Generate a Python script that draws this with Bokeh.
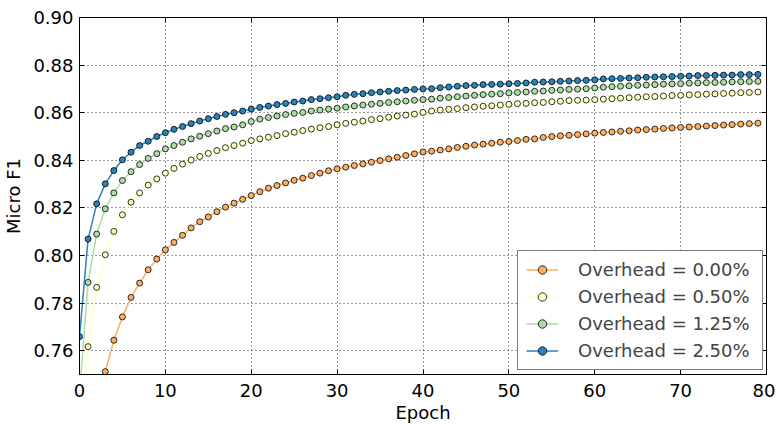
from bokeh.plotting import figure
from bokeh.models import Range1d, FixedTicker, LinearAxis, Legend, LegendItem, PrintfTickFormatter, ColumnDataSource
from bokeh.embed import file_html
from bokeh.resources import INLINE

epochs = list(range(80))

overhead_0_00 = [
    0.620, 0.690, 0.725, 0.7512, 0.7644, 0.7742, 0.7824, 0.7884, 0.7940, 0.7985,
    0.8024, 0.8055, 0.8085, 0.8116, 0.8142, 0.8162, 0.8184, 0.8203, 0.8220, 0.8236,
    0.8252, 0.8268, 0.8283, 0.8294, 0.8305, 0.8316, 0.8325, 0.8336, 0.8346, 0.8356,
    0.8364, 0.8371, 0.8378, 0.8385, 0.8392, 0.8399, 0.8406, 0.8413, 0.8420, 0.8427,
    0.8435, 0.8438, 0.8443, 0.8448, 0.8454, 0.8459, 0.8464, 0.8468, 0.8472, 0.8476,
    0.8479, 0.8483, 0.8488, 0.8490, 0.8496, 0.8500, 0.8503, 0.8505, 0.8508, 0.8511,
    0.8514, 0.8517, 0.8519, 0.8522, 0.8524, 0.8527, 0.8529, 0.8531, 0.8534, 0.8536,
    0.8538, 0.8540, 0.8542, 0.8544, 0.8546, 0.8548, 0.8550, 0.8552, 0.8554, 0.8556,
]

overhead_0_50 = [
    0.727, 0.7617, 0.7866, 0.8003, 0.8101, 0.8171, 0.8224, 0.8263, 0.8296, 0.8322,
    0.8346, 0.8366, 0.8384, 0.8401, 0.8416, 0.8429, 0.8441, 0.8453, 0.8462, 0.8472,
    0.8483, 0.8490, 0.8497, 0.8504, 0.8512, 0.8518, 0.8525, 0.8531, 0.8537, 0.8542,
    0.8549, 0.8555, 0.8560, 0.8565, 0.8571, 0.8575, 0.8581, 0.8586, 0.8590, 0.8594,
    0.8601, 0.8607, 0.8611, 0.8614, 0.8617, 0.8621, 0.8624, 0.8627, 0.8629, 0.8632,
    0.8635, 0.8638, 0.8639, 0.8642, 0.8643, 0.8646, 0.8648, 0.8651, 0.8652, 0.8653,
    0.8655, 0.8657, 0.8659, 0.8661, 0.8663, 0.8665, 0.8667, 0.8668, 0.8670, 0.8672,
    0.8673, 0.8675, 0.8676, 0.8678, 0.8679, 0.8681, 0.8682, 0.8684, 0.8685, 0.8687,
]

overhead_1_25 = [
    0.742, 0.7887, 0.8090, 0.8196, 0.8263, 0.8315, 0.8352, 0.8382, 0.8408, 0.8428,
    0.8448, 0.8462, 0.8476, 0.8490, 0.8501, 0.8512, 0.8523, 0.8533, 0.8540, 0.8549,
    0.8563, 0.8573, 0.8580, 0.8586, 0.8592, 0.8597, 0.8601, 0.8607, 0.8611, 0.8615,
    0.8619, 0.8624, 0.8628, 0.8632, 0.8636, 0.8639, 0.8643, 0.8646, 0.8649, 0.8652,
    0.8655, 0.8657, 0.8661, 0.8664, 0.8667, 0.8670, 0.8673, 0.8676, 0.8678, 0.8680,
    0.8683, 0.8685, 0.8687, 0.8690, 0.8691, 0.8694, 0.8695, 0.8698, 0.8699, 0.8701,
    0.8704, 0.8707, 0.8709, 0.8711, 0.8713, 0.8715, 0.8716, 0.8718, 0.8720, 0.8721,
    0.8722, 0.8724, 0.8725, 0.8726, 0.8727, 0.8728, 0.8729, 0.8730, 0.8731, 0.8732,
]

overhead_2_50 = [
    0.7659, 0.8069, 0.8217, 0.8301, 0.8357, 0.8402, 0.8434, 0.8462, 0.8480, 0.8500,
    0.8516, 0.8530, 0.8542, 0.8554, 0.8565, 0.8575, 0.8584, 0.8593, 0.8600, 0.8607,
    0.8615, 0.8622, 0.8628, 0.8634, 0.8639, 0.8645, 0.8649, 0.8655, 0.8659, 0.8663,
    0.8667, 0.8673, 0.8677, 0.8680, 0.8684, 0.8687, 0.8690, 0.8693, 0.8695, 0.8698,
    0.8700, 0.8701, 0.8705, 0.8708, 0.8711, 0.8714, 0.8715, 0.8718, 0.8719, 0.8720,
    0.8722, 0.8723, 0.8725, 0.8728, 0.8729, 0.8730, 0.8732, 0.8733, 0.8735, 0.8736,
    0.8738, 0.8742, 0.8743, 0.8744, 0.8746, 0.8747, 0.8749, 0.8750, 0.8751, 0.8752,
    0.8753, 0.8754, 0.8756, 0.8756, 0.8757, 0.8758, 0.8758, 0.8760, 0.8760, 0.8761,
]

series_labels = ["Overhead = 0.00%", "Overhead = 0.50%", "Overhead = 1.25%", "Overhead = 2.50%"]
series_values = [overhead_0_00, overhead_0_50, overhead_1_25, overhead_2_50]
series_colors = ["#fdae61", "#ffffbf", "#abdda4", "#2b83ba"]

x_ticks = [0, 10, 20, 30, 40, 50, 60, 70, 80]
y_ticks = [0.76, 0.78, 0.80, 0.82, 0.84, 0.86, 0.88, 0.90]

FONT = "DejaVu Sans"
FS = "18px"

p = figure(
    frame_width=687, frame_height=357,
    min_border_left=72, min_border_right=9, min_border_top=17, min_border_bottom=42,
    x_range=Range1d(0, 80), y_range=Range1d(0.75, 0.90),
    output_backend="svg", toolbar_location=None,
    background_fill_color="white", border_fill_color="white",
)
p.outline_line_color = "black"
p.outline_line_width = 1

items = []
for lab, vals, col in zip(series_labels, series_values, series_colors):
    src = ColumnDataSource(dict(x=epochs, y=vals))
    r_line = p.line("x", "y", source=src, line_color=col, line_width=1.5)
    r_pts = p.scatter("x", "y", source=src, marker="circle", size=6,
                      fill_color=col, line_color="black", line_width=0.8)
    items.append(LegendItem(label=lab, renderers=[r_line, r_pts]))

for ax in (p.xaxis[0], p.yaxis[0]):
    ax.major_tick_in = 5
    ax.major_tick_out = 0
    ax.minor_tick_line_color = None
    ax.axis_line_color = "black"
    ax.major_label_text_font = FONT
    ax.major_label_text_font_size = FS
    ax.major_label_text_color = "black"
    ax.axis_label_text_font = FONT
    ax.axis_label_text_font_size = FS
    ax.axis_label_text_font_style = "normal"
    ax.axis_label_text_color = "black"

p.xaxis[0].ticker = FixedTicker(ticks=x_ticks)
p.yaxis[0].ticker = FixedTicker(ticks=y_ticks)
p.yaxis[0].formatter = PrintfTickFormatter(format="%.2f")
p.xaxis[0].axis_label = "Epoch"
p.yaxis[0].axis_label = "Micro F1"
p.xaxis[0].major_label_standoff = 9
p.yaxis[0].major_label_standoff = 6
p.xaxis[0].axis_label_standoff = 2
p.yaxis[0].axis_label_standoff = 6

# inward ticks on the top and right edges, without labels
top_ax = LinearAxis(ticker=FixedTicker(ticks=[], minor_ticks=x_ticks),
                    major_tick_line_color=None, minor_tick_in=5, minor_tick_out=0,
                    axis_line_color="black")
right_ax = LinearAxis(ticker=FixedTicker(ticks=[], minor_ticks=y_ticks),
                      major_tick_line_color=None, minor_tick_in=5, minor_tick_out=0,
                      axis_line_color="black")
p.add_layout(top_ax, "above")
p.add_layout(right_ax, "right")

for g in (p.xgrid[0], p.ygrid[0]):
    g.grid_line_color = "black"
    g.grid_line_dash = "1 3"
    g.grid_line_width = 1
    g.grid_line_alpha = 0.8
p.xgrid[0].ticker = FixedTicker(ticks=x_ticks)
p.ygrid[0].ticker = FixedTicker(ticks=y_ticks)

legend = Legend(items=items, location=(438, 4),
                label_text_font=FONT, label_text_font_size=FS,
                label_height=21, glyph_height=21, glyph_width=32,
                label_width=176,
                spacing=6, padding=8, label_standoff=20,
                border_line_color="black", border_line_width=1,
                background_fill_color="white", background_fill_alpha=1)
p.add_layout(legend)

open("out.html", "w").write(file_html(p, INLINE))
